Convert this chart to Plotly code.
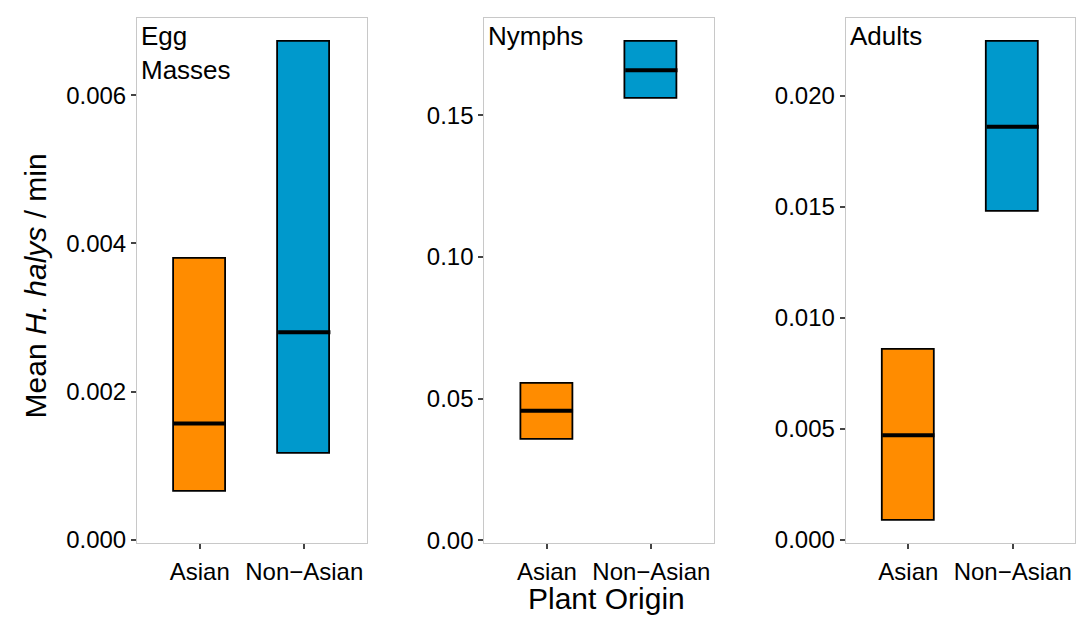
import plotly.graph_objects as go

categories = ["Asian", "Non\u2212Asian"]
panels = ["Egg<br>Masses", "Nymphs", "Adults"]

egg_low = [0.000646, 0.00116]
egg_mid = [0.00157, 0.00280]
egg_high = [0.00379, 0.00672]

nym_low = [0.0354, 0.1557]
nym_mid = [0.0457, 0.1659]
nym_high = [0.0553, 0.1760]

adu_low = [0.00084, 0.01478]
adu_mid = [0.00471, 0.01861]
adu_high = [0.00854, 0.02244]

yticks = [
    [0.000, 0.002, 0.004, 0.006],
    [0.00, 0.05, 0.10, 0.15],
    [0.000, 0.005, 0.010, 0.015, 0.020],
]
ytick_text = [
    ["0.000", "0.002", "0.004", "0.006"],
    ["0.00", "0.05", "0.10", "0.15"],
    ["0.000", "0.005", "0.010", "0.015", "0.020"],
]
yranges = [[-0.0000438, 0.007043], [-0.00104, 0.1844], [-0.000146, 0.02351]]

colors = ["#FF8C00", "#0099CC"]
W, H = 1084, 617
domains = [[129 / W, 359 / W], [476.3 / W, 706 / W], [837.7 / W, 1067.3 / W]]
ydom = [1 - 544 / H, 1 - 10 / H]
bw = 0.5

data = [(egg_low, egg_mid, egg_high), (nym_low, nym_mid, nym_high), (adu_low, adu_mid, adu_high)]

fig = go.Figure()
xs = [i + 1 for i in range(len(categories))]
for p, (lo, mid, hi) in enumerate(data):
    ax = "" if p == 0 else str(p + 1)
    fig.add_trace(go.Bar(
        x=xs, y=[h - l for h, l in zip(hi, lo)], base=lo, width=bw,
        marker=dict(color=colors, line=dict(color="black", width=1.8)),
        xaxis="x" + ax, yaxis="y" + ax, showlegend=False, hoverinfo="skip"))
    for i, m in enumerate(mid):
        fig.add_trace(go.Scatter(
            x=[xs[i] - bw / 2, xs[i] + bw / 2], y=[m, m], mode="lines",
            line=dict(color="black", width=4),
            xaxis="x" + ax, yaxis="y" + ax, showlegend=False, hoverinfo="skip"))
    fig.add_annotation(
        text=panels[p], xref="paper", yref="paper",
        x=domains[p][0] + 2 / W, y=ydom[1] - 1 / H, xanchor="left", yanchor="top",
        showarrow=False, align="left",
        font=dict(family="Liberation Sans, Arial", size=26, color="black"))

axis_common = dict(showgrid=False, zeroline=False, showline=True, mirror=True,
                   linecolor="#C8C8C8", linewidth=1, ticks="outside", ticklen=5,
                   tickwidth=1.5, tickcolor="#444444",
                   tickfont=dict(family="Liberation Sans, Arial", size=24, color="black"))
layout = dict(width=W, height=H, margin=dict(l=0, r=0, t=0, b=0),
              plot_bgcolor="white", paper_bgcolor="white", bargap=0)
for p in range(3):
    k = "" if p == 0 else str(p + 1)
    layout["xaxis" + k] = dict(axis_common, domain=domains[p], range=[0.4, 2.6],
                               tickvals=xs, ticktext=categories,
                               anchor="y" + k, ticklabelstandoff=2)
    layout["yaxis" + k] = dict(axis_common, domain=ydom, range=yranges[p],
                               tickvals=yticks[p], ticktext=ytick_text[p],
                               anchor="x" + k)
fig.update_layout(**layout)

fig.add_annotation(text="Mean <i>H. halys</i> / min", xref="paper", yref="paper",
                   x=27 / W, y=1 - 283 / H, textangle=-90, showarrow=False,
                   xanchor="center", yanchor="middle",
                   font=dict(family="Liberation Sans, Arial", size=30, color="black"))
fig.add_annotation(text="Plant Origin", xref="paper", yref="paper",
                   x=598 / W, y=1 - 600 / H, showarrow=False,
                   xanchor="center", yanchor="middle",
                   font=dict(family="Liberation Sans, Arial", size=30, color="black"))

fig.write_html("out.html")
